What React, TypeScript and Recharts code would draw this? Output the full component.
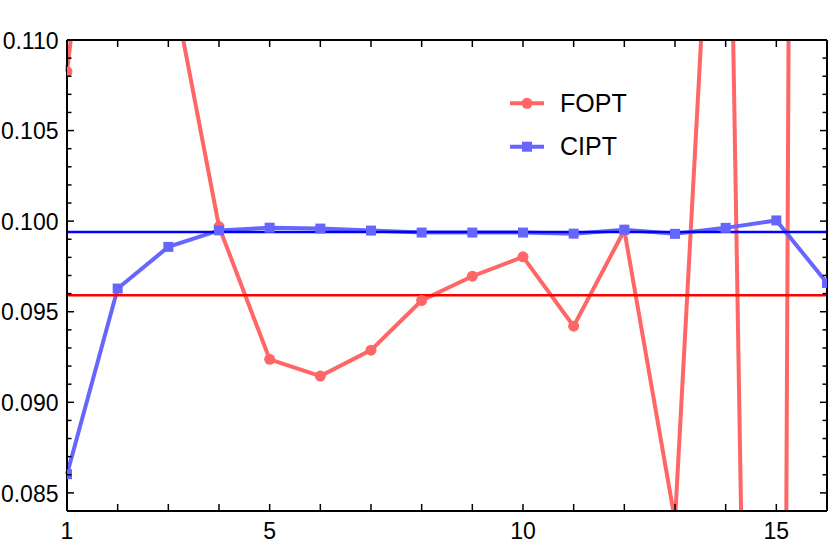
import { LineChart, Line, XAxis, YAxis, ReferenceLine, Legend } from "recharts";

// values
const X_VALUES = [1, 2, 3, 4, 5, 6, 7, 8, 9, 10, 11, 12, 13, 14, 15, 16];
const FOPT = [
  0.10825, 0.132, 0.1143, 0.0997, 0.09237, 0.09145, 0.09288, 0.09562, 0.09696, 0.09803, 0.0942, 0.0995,
  0.08346, 0.135, -0.033, 0.56,
];
const CIPT = [
  0.08603, 0.09628, 0.09858, 0.09949, 0.09964, 0.09959, 0.09948, 0.09937, 0.09937, 0.09937, 0.09931, 0.09953,
  0.0993, 0.09963, 0.10004, 0.09659,
];
const FOPT_REF = 0.09591;
const CIPT_REF = 0.0994;

const X_TICKS = X_VALUES;
const X_LABELS = [1, 5, 10, 15];
const Y_TICKS = [
  0.084, 0.085, 0.086, 0.087, 0.088, 0.089, 0.09, 0.091, 0.092, 0.093, 0.094, 0.095, 0.096, 0.097, 0.098, 0.099,
  0.1, 0.101, 0.102, 0.103, 0.104, 0.105, 0.106, 0.107, 0.108, 0.109, 0.11,
];
const Y_LABELS = [0.085, 0.09, 0.095, 0.1, 0.105, 0.11];

const RED = "#ff6666";
const BLUE = "#6666ff";
const FONT = '"Liberation Sans", Arial, sans-serif';

// layout: chart margins + axis sizes -> plot box
const W = 830;
const H = 554;
const LEFT = 67;
const TOP = 40;
const RIGHT_W = 3;
const BOTTOM_H = 43;
const PLOT_W = W - LEFT - RIGHT_W;
const PLOT_H = H - TOP - BOTTOM_H;

const data = X_VALUES.map((x, i) => ({ x, fopt: FOPT[i], cipt: CIPT[i] }));

const isYLabel = (v: number) => Y_LABELS.some((l) => Math.abs(l - v) < 1e-9);

function LeftTick({ x, y, payload }: any) {
  const major = isYLabel(payload.value);
  return (
    <g>
      <line x1={x} x2={x + (major ? 7 : 4.5)} y1={y} y2={y} stroke="#000" strokeWidth={1.5} />
      {major && (
        <text x={x - 8.5} y={y} dy="0.38em" textAnchor="end" fontSize={23} fontFamily={FONT} fill="#000">
          {payload.value.toFixed(3)}
        </text>
      )}
    </g>
  );
}

function RightTick({ x, y, payload }: any) {
  const major = isYLabel(payload.value);
  return <line x1={x} x2={x - (major ? 7 : 4.5)} y1={y} y2={y} stroke="#000" strokeWidth={1.5} />;
}

function BottomTick({ x, y, payload }: any) {
  return (
    <g>
      <line x1={x} x2={x} y1={y} y2={y - 7} stroke="#000" strokeWidth={1.5} />
      {X_LABELS.includes(payload.value) && (
        <text x={x} y={y + 28} textAnchor="middle" fontSize={23} fontFamily={FONT} fill="#000">
          {payload.value}
        </text>
      )}
    </g>
  );
}

function TopTick({ x, y }: any) {
  return <line x1={x} x2={x} y1={y} y2={y + 7} stroke="#000" strokeWidth={1.5} />;
}

// dots are wrapped in a nested svg so they get clipped at the frame like the lines
function CircleDot({ cx, cy, index }: any) {
  if (cx == null || cy == null) return null;
  return (
    <svg key={index} x={LEFT} y={TOP} width={PLOT_W} height={PLOT_H} overflow="hidden">
      <circle cx={cx - LEFT} cy={cy - TOP} r={5.5} fill={RED} />
    </svg>
  );
}

function SquareDot({ cx, cy, index }: any) {
  if (cx == null || cy == null) return null;
  return (
    <svg key={index} x={LEFT} y={TOP} width={PLOT_W} height={PLOT_H} overflow="hidden">
      <rect x={cx - LEFT - 5} y={cy - TOP - 5} width={10} height={10} fill={BLUE} />
    </svg>
  );
}

function LegendContent() {
  const rows = [
    { name: "FOPT", color: RED, square: false },
    { name: "CIPT", color: BLUE, square: true },
  ];
  return (
    <svg width={140} height={90} style={{ display: "block" }}>
      {rows.map((r, i) => {
        const cy = 20.3 + i * 43.4;
        return (
          <g key={r.name}>
            <line x1={5} x2={39} y1={cy} y2={cy} stroke={r.color} strokeWidth={4} />
            {r.square ? (
              <rect x={17} y={cy - 5} width={10} height={10} fill={r.color} />
            ) : (
              <circle cx={22} cy={cy} r={5.5} fill={r.color} />
            )}
            <text x={55} y={cy + 8.5} fontSize={25} fontFamily={FONT} fill="#000">
              {r.name}
            </text>
          </g>
        );
      })}
    </svg>
  );
}

const axisLine = { stroke: "#000", strokeWidth: 2 };

export default function App() {
  return (
    <div style={{ position: "absolute", left: 0, top: 0, width: W, height: H, background: "#fff" }}>
      <LineChart width={W} height={H} data={data} margin={{ top: TOP - 1, right: 0, bottom: 0, left: 0 }}>
        <XAxis
          xAxisId="bottom"
          dataKey="x"
          type="number"
          domain={[1, 16]}
          ticks={X_TICKS}
          interval={0}
          height={BOTTOM_H}
          tickSize={0}
          tickMargin={0}
          tickLine={false}
          axisLine={axisLine}
          tick={<BottomTick />}
        />
        <XAxis
          xAxisId="top"
          orientation="top"
          dataKey="x"
          type="number"
          domain={[1, 16]}
          ticks={X_TICKS}
          interval={0}
          height={1}
          tickSize={0}
          tickMargin={0}
          tickLine={false}
          axisLine={axisLine}
          tick={<TopTick />}
        />
        <YAxis
          yAxisId="left"
          type="number"
          domain={[0.084, 0.11]}
          allowDataOverflow
          ticks={Y_TICKS}
          interval={0}
          width={LEFT}
          tickSize={0}
          tickMargin={0}
          tickLine={false}
          axisLine={axisLine}
          tick={<LeftTick />}
        />
        <YAxis
          yAxisId="right"
          orientation="right"
          type="number"
          domain={[0.084, 0.11]}
          allowDataOverflow
          ticks={Y_TICKS}
          interval={0}
          width={RIGHT_W}
          tickSize={0}
          tickMargin={0}
          tickLine={false}
          axisLine={axisLine}
          tick={<RightTick />}
        />
        <Line
          xAxisId="bottom"
          yAxisId="left"
          dataKey="fopt"
          name="FOPT"
          type="linear"
          stroke={RED}
          strokeWidth={4}
          dot={<CircleDot />}
          activeDot={false}
          isAnimationActive={false}
        />
        <Line
          xAxisId="bottom"
          yAxisId="left"
          dataKey="cipt"
          name="CIPT"
          type="linear"
          stroke={BLUE}
          strokeWidth={4}
          dot={<SquareDot />}
          activeDot={false}
          isAnimationActive={false}
        />
        <ReferenceLine xAxisId="bottom" yAxisId="left" y={FOPT_REF} stroke="#ff0000" strokeWidth={2.7} />
        <ReferenceLine xAxisId="bottom" yAxisId="left" y={CIPT_REF} stroke="#0000ff" strokeWidth={2.7} />
        <Legend
          layout="vertical"
          align="center"
          verticalAlign="middle"
          content={<LegendContent />}
          wrapperStyle={{ left: 505, top: 83, width: 140, height: 90 }}
        />
      </LineChart>
    </div>
  );
}
